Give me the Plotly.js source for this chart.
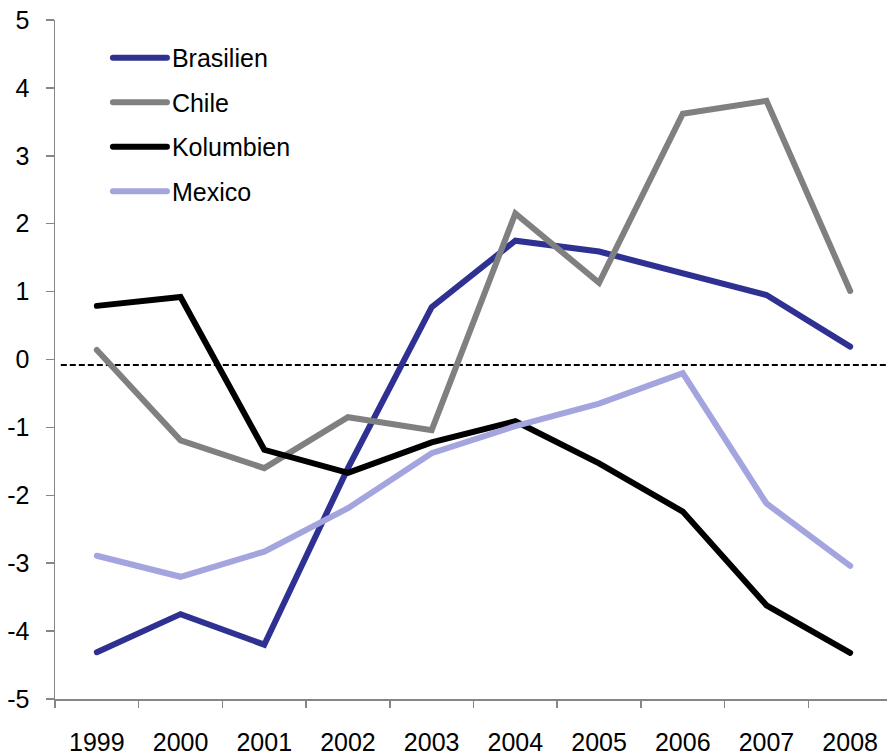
<!DOCTYPE html>
<html>
<head>
<meta charset="utf-8">
<script src="https://cdn.plot.ly/plotly-3.0.1.min.js"></script>
<style>
html, body { margin: 0; padding: 0; background: #fff; }
#chart { width: 887px; height: 754px; }
.scatterlayer .js-line, .legendlines path { stroke-linecap: round; }
</style>
</head>
<body>
<div id="chart"></div>
<script>
const years = ['1999','2000','2001','2002','2003','2004','2005','2006','2007','2008'];
const brasilien = [-4.31, -3.75, -4.20, -1.60, 0.77, 1.75, 1.59, 1.27, 0.95, 0.19];
const chile     = [0.14, -1.19, -1.60, -0.85, -1.04, 2.15, 1.13, 3.62, 3.81, 1.01];
const kolumbien = [0.79, 0.92, -1.33, -1.67, -1.22, -0.91, -1.53, -2.24, -3.62, -4.32];
const mexico    = [-2.89, -3.20, -2.83, -2.19, -1.38, -0.98, -0.65, -0.20, -2.12, -3.04];
const refLevel = -0.08;
const yTickVals = [-5,-4,-3,-2,-1,0,1,2,3,4,5];
const yTickText = ['-5','-4','-3','-2','-1','0','1','2','3','4','5'];

const seriesNames = ['Brasilien','Chile','Kolumbien','Mexico'];
const seriesData = [brasilien, chile, kolumbien, mexico];
const seriesColors = ['#2E3192','#808080','#000000','#A4A4DE'];

const traces = seriesNames.map((n, i) => ({
  type: 'scatter', mode: 'lines', name: n, x: years, y: seriesData[i],
  legendgroup: 'g' + i,
  line: { color: seriesColors[i], width: 6 }
}));

const layout = {
  width: 887, height: 754,
  margin: { l: 55, r: 0, t: 20, b: 55 },
  paper_bgcolor: '#fff', plot_bgcolor: '#fff',
  font: { family: 'Liberation Sans, Arial, sans-serif', size: 25, color: '#000' },
  showlegend: true,
  legend: {
    x: 0.0636, y: 0.978, xanchor: 'left', yanchor: 'top',
    bgcolor: 'rgba(0,0,0,0)', borderwidth: 0,
    font: { size: 25, color: '#000' },
    traceorder: 'grouped', tracegroupgap: 9, itemwidth: 54
  },
  xaxis: {
    type: 'category', range: [-0.5, 9.44],
    tickson: 'boundaries', ticks: 'outside', ticklen: 7, tickwidth: 1.5, tickcolor: '#868686',
    showline: true, linecolor: '#868686', linewidth: 1.5,
    showgrid: false, zeroline: false,
    ticklabelstandoff: 20,
    tickfont: { size: 25, color: '#000' }
  },
  yaxis: {
    range: [-5, 5], tickvals: yTickVals, ticktext: yTickText,
    ticks: 'outside', ticklen: 8, tickwidth: 1.5, tickcolor: '#868686',
    showline: true, linecolor: '#868686', linewidth: 1.5,
    showgrid: false, zeroline: false,
    ticklabelstandoff: 11,
    tickfont: { size: 25, color: '#000' }
  },
  shapes: [{
    type: 'line', xref: 'paper', yref: 'y', x0: 0.007, x1: 1, y0: refLevel, y1: refLevel,
    line: { color: '#000', width: 2, dash: '6px,3px' }, layer: 'below'
  }]
};

Plotly.newPlot('chart', traces, layout, { displayModeBar: false, staticPlot: true });
</script>
</body>
</html>
